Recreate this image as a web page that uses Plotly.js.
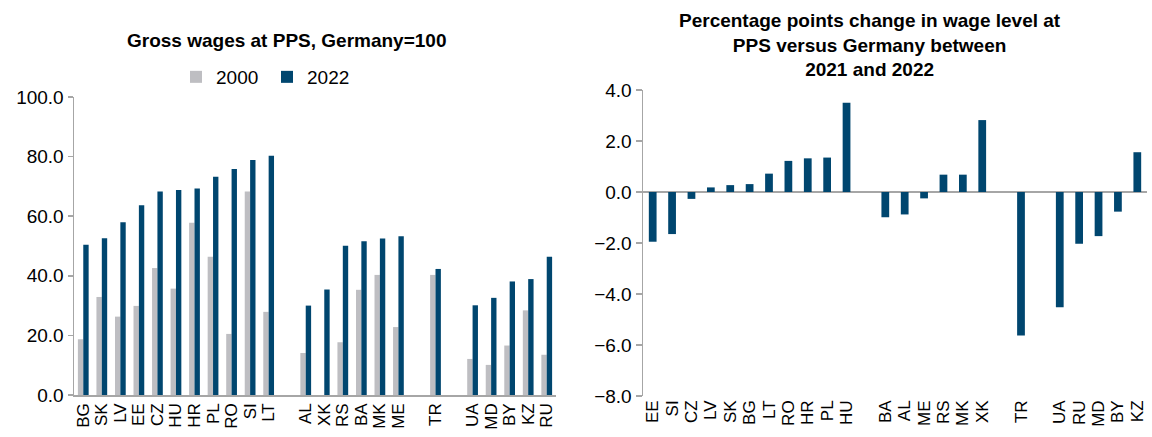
<!DOCTYPE html>
<html>
<head>
<meta charset="utf-8">
<script src="https://cdn.plot.ly/plotly-3.0.1.min.js"></script>
<style>html,body{margin:0;padding:0;background:#fff;}#chart{width:1152px;height:437px;}</style>
</head>
<body>
<div id="chart"></div>
<script>
// ---- Left chart: Gross wages at PPS, Germany=100 ----
var leftGroupA = ["BG","SK","LV","EE","CZ","HU","HR","PL","RO","SI","LT"];
var leftGroupB = ["AL","XK","RS","BA","MK","ME"];
var leftGroupC = ["TR"];
var leftGroupD = ["UA","MD","BY","KZ","RU"];
var leftCountries = leftGroupA.concat(leftGroupB, leftGroupC, leftGroupD);
var wages2000 = [18.7,32.9,26.3,29.9,42.6,35.7,57.8,46.4,20.5,68.3,27.9,
                 14.1,null,17.7,35.3,40.3,22.8,
                 40.3,
                 12.1,10.1,16.6,28.4,13.5];
var wages2022 = [50.4,52.6,58.0,63.7,68.3,68.8,69.3,73.2,75.8,78.9,80.3,
                 30.0,35.4,50.1,51.6,52.5,53.3,
                 42.3,
                 30.1,32.6,38.1,38.9,46.4];

// ---- Right chart: pp change 2021-2022 ----
var rightGroupA = ["EE","SI","CZ","LV","SK","BG","LT","RO","HR","PL","HU"];
var rightGroupB = ["BA","AL","ME","RS","MK","XK"];
var rightGroupC = ["TR"];
var rightGroupD = ["UA","RU","MD","BY","KZ"];
var rightCountries = rightGroupA.concat(rightGroupB, rightGroupC, rightGroupD);
var ppChange = [-1.95,-1.65,-0.27,0.18,0.27,0.31,0.72,1.22,1.32,1.35,3.50,
                -0.99,-0.88,-0.25,0.68,0.68,2.82,
                -5.63,
                -4.52,-2.03,-1.73,-0.77,1.56];

var leftCatOrder = leftGroupA.concat([" "], leftGroupB, ["  "], leftGroupC, ["   "], leftGroupD);
var rightCatOrder = rightGroupA.concat([" "], rightGroupB, ["  "], rightGroupC, ["   "], rightGroupD);

var GRAY = "#BEBEC2", NAVY = "#00466F", AXIS = "#A6A6A6";
var FONT = "Liberation Sans, Arial, sans-serif";
var W = 1152, H = 437;
function px(x){return x/W;}
function py(y){return 1 - y/H;}

var traces = [
  {type:"bar", name:"2000", x:leftCountries, y:wages2000, marker:{color:GRAY}, xaxis:"x", yaxis:"y", hoverinfo:"x+y"},
  {type:"bar", name:"2022", x:leftCountries, y:wages2022, marker:{color:NAVY}, xaxis:"x", yaxis:"y", hoverinfo:"x+y"},
  {type:"bar", name:"change", x:rightCountries, y:ppChange, marker:{color:NAVY}, width:0.4, xaxis:"x2", yaxis:"y2", showlegend:false, hoverinfo:"x+y"}
];

var tickFont = {family:FONT, size:19, color:"#000"};
var xTickFont = {family:FONT, size:17, color:"#000"};

var layout = {
  width:W, height:H,
  margin:{l:0,r:0,t:0,b:0},
  paper_bgcolor:"#fff", plot_bgcolor:"rgba(0,0,0,0)",
  font:{family:FONT, color:"#000"},
  barmode:"group", bargap:0.42, bargroupgap:0,
  showlegend:true,
  legend:{orientation:"h", x:px(176), xanchor:"left", y:py(77), yanchor:"middle",
          font:{family:FONT, size:19, color:"#000"}, itemwidth:30, traceorder:"normal",
          entrywidth:46, entrywidthmode:"pixels",
          bgcolor:"rgba(0,0,0,0)"},
  xaxis:{domain:[px(74), px(556)], anchor:"y", type:"category",
         categoryorder:"array", categoryarray:leftCatOrder,
         tickmode:"array", tickvals:leftCountries, ticktext:leftCountries,
         showline:true, linecolor:AXIS, linewidth:1.5, ticks:"", tickangle:-90,
         tickfont:xTickFont, showgrid:false, zeroline:false, fixedrange:true},
  yaxis:{domain:[py(395), py(97)], anchor:"x", range:[0,100], dtick:20, tickformat:".1f",
         showline:true, linecolor:AXIS, linewidth:1.5, ticks:"outside", ticklen:5, tickcolor:AXIS, tickwidth:1.5,
         tickfont:tickFont, showgrid:false, zeroline:false, fixedrange:true},
  xaxis2:{domain:[px(643), px(1147)], anchor:"y2", type:"category",
         categoryorder:"array", categoryarray:rightCatOrder,
         tickmode:"array", tickvals:rightCountries, ticktext:rightCountries,
         showline:false, ticks:"", tickangle:-90, tickfont:xTickFont,
         showgrid:false, zeroline:false, fixedrange:true},
  yaxis2:{domain:[py(396), py(90)], anchor:"x2", range:[-8,4], dtick:2, tickformat:".1f",
         showline:true, linecolor:AXIS, linewidth:1.5, ticks:"outside", ticklen:6, tickcolor:AXIS, tickwidth:1.5,
         tickfont:tickFont, showgrid:false, zeroline:true, zerolinecolor:AXIS, zerolinewidth:1.5, fixedrange:true},
  annotations:[
    {text:"<b>Gross wages at PPS, Germany=100</b>", xref:"paper", yref:"paper",
     x:px(286), y:py(40), xanchor:"center", yanchor:"middle", showarrow:false,
     font:{family:FONT, size:19, color:"#000"}},
    {text:"<b>Percentage points change in wage level at<br>PPS versus Germany between<br>2021 and 2022</b>",
     xref:"paper", yref:"paper", x:px(870), y:py(45), xanchor:"center", yanchor:"middle", showarrow:false,
     align:"center", font:{family:FONT, size:19, color:"#000"}}
  ]
};

Plotly.newPlot("chart", traces, layout, {displayModeBar:false, staticPlot:true});
</script>
</body>
</html>
